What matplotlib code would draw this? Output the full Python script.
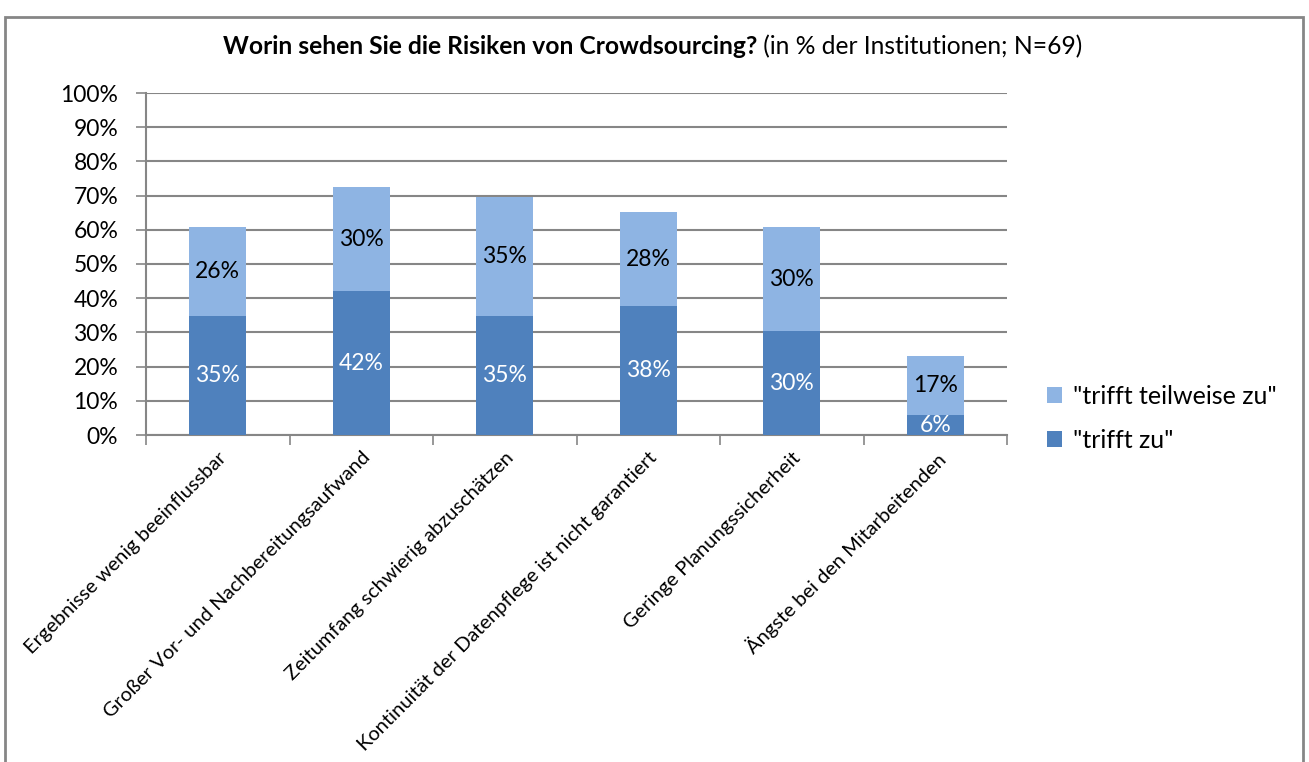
import numpy as np
import matplotlib.pyplot as plt
from matplotlib.patches import Rectangle

categories = [
    'Ergebnisse wenig beeinflussbar',
    'Großer Vor- und Nachbereitungsaufwand',
    'Zeitumfang schwierig abzuschätzen',
    'Kontinuität der Datenpflege ist nicht garantiert',
    'Geringe Planungssicherheit',
    'Ängste bei den Mitarbeitenden',
]
trifft_zu = [34.8, 42.0, 34.8, 37.7, 30.4, 5.8]
trifft_teilweise = [26.1, 30.4, 34.8, 27.5, 30.4, 17.4]
yticks = list(range(0, 101, 10))

dark = '#4F81BD'
light = '#8EB4E3'
grid = '#868686'

plt.rcParams['font.family'] = ['Lato', 'DejaVu Sans']

fig = plt.figure(figsize=(13.09, 7.62), dpi=100)
ax = fig.add_axes([146 / 1309, 1 - 435 / 762, (1007 - 146) / 1309, (435 - 93) / 762])

x = np.arange(len(categories))
b1 = ax.bar(x, trifft_zu, width=0.4, color=dark, label='"trifft zu"', zorder=3)
b2 = ax.bar(x, trifft_teilweise, width=0.4, bottom=trifft_zu, color=light,
            label='"trifft teilweise zu"', zorder=3)

for xi, v in zip(x, trifft_zu):
    ax.text(xi, v / 2, f'{v:.0f}%', ha='center', va='center', color='white',
            fontsize=16.5, zorder=4)
for xi, b, v in zip(x, trifft_zu, trifft_teilweise):
    ax.text(xi, b + v / 2, f'{v:.0f}%', ha='center', va='center', color='black',
            fontsize=16.5, zorder=4)

ax.set_xlim(-0.5, len(categories) - 0.5)
ax.set_ylim(0, 100)
ax.set_yticks(yticks)
ax.set_yticklabels([f'{t}%' for t in yticks], fontsize=16.5)
ax.yaxis.grid(True, color=grid, linewidth=1.5, zorder=0)
ax.tick_params(axis='y', length=7, width=1.2, color=grid, pad=13)

ax.set_xticks(x)
ax.set_xticklabels(categories, rotation=45, ha='right', rotation_mode='anchor',
                   fontsize=14.5)
ax.tick_params(axis='x', length=0, pad=10)
ax.set_xticks(np.arange(-0.5, len(categories)), minor=True)
ax.tick_params(axis='x', which='minor', length=7, width=1.2, color=grid)

for s in ['top', 'right']:
    ax.spines[s].set_visible(False)
ax.spines['left'].set_color(grid)
ax.spines['bottom'].set_color(grid)
ax.spines['left'].set_linewidth(1.5)
ax.spines['bottom'].set_linewidth(1.5)

handles = [b2, b1]
fig.legend(handles, [h.get_label() for h in handles], loc='upper left',
           bbox_to_anchor=(1024 / 1309, 1 - 362 / 762), frameon=False,
           fontsize=18, handlelength=0.6, handleheight=0.6, labelspacing=0.85,
           handletextpad=0.45)

fig.text(757 / 1309, 1 - 47 / 762, 'Worin sehen Sie die Risiken von Crowdsourcing?',
         ha='right', va='center', fontsize=17.7, fontweight='bold')
fig.text(757 / 1309, 1 - 47 / 762, ' (in % der Institutionen; N=69)', ha='left',
         va='center', fontsize=17.7)

fig.patches.append(Rectangle((5 / 1309, -0.01), (1303 - 5) / 1309, 1 - 17 / 762 + 0.01,
                             transform=fig.transFigure, fill=False,
                             edgecolor=grid, linewidth=2))

fig.savefig('out.png', dpi=100)
